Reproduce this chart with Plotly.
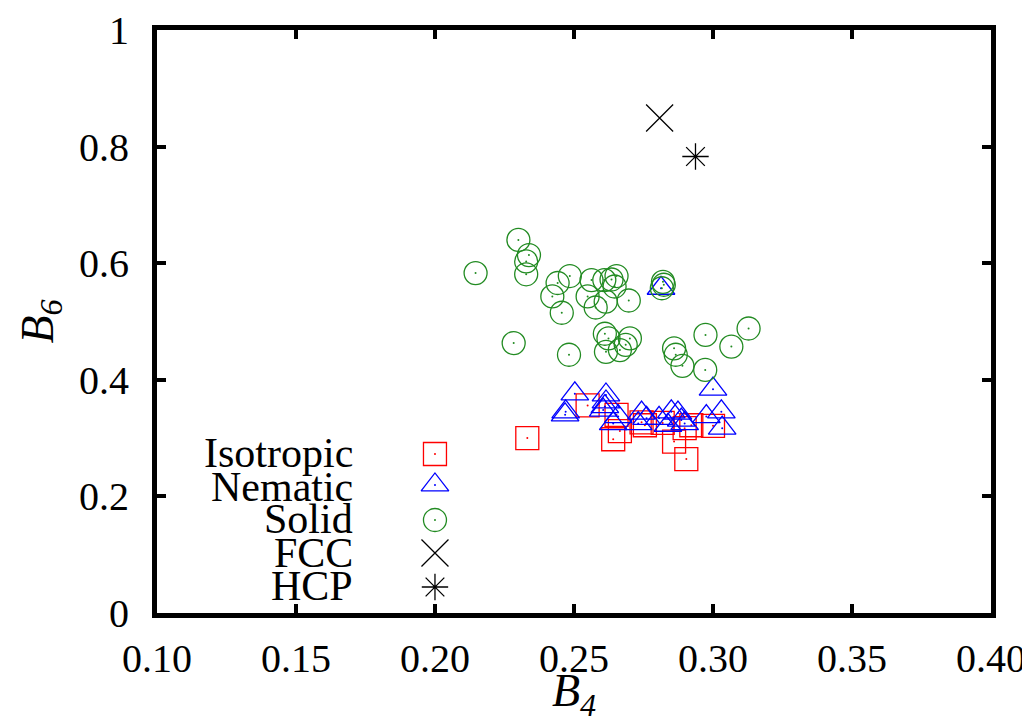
import plotly.graph_objects as go

# ---------------- data ----------------
iso_b4 = [0.2332, 0.2549, 0.2641, 0.2665, 0.2653, 0.2743, 0.2755, 0.2860, 0.2904, 0.2898, 0.2922, 0.3000, 0.2819]
iso_b6 = [0.300, 0.356, 0.298, 0.312, 0.340, 0.327, 0.322, 0.294, 0.264, 0.317, 0.322, 0.321, 0.326]

nem_b4 = [0.2503, 0.2470, 0.2468, 0.2615, 0.2615, 0.2611, 0.2605, 0.2641, 0.2659, 0.2743, 0.2761, 0.2731,
          0.2806, 0.2850, 0.2874, 0.2886, 0.2838, 0.2898, 0.3000, 0.2976, 0.3030, 0.3033, 0.2813]
nem_b6 = [0.376, 0.345, 0.340, 0.374, 0.362, 0.354, 0.348, 0.325, 0.337, 0.343, 0.334, 0.325,
          0.334, 0.345, 0.343, 0.331, 0.322, 0.325, 0.384, 0.337, 0.345, 0.317, 0.557]

sol_b4 = [0.2300, 0.2338, 0.2328, 0.2328, 0.2146, 0.2441, 0.2485, 0.2422, 0.2456, 0.2563, 0.2549, 0.2578,
          0.2609, 0.2635, 0.2653, 0.2646, 0.2614, 0.2697, 0.2820, 0.2816, 0.2823, 0.2611, 0.2624, 0.2615,
          0.2686, 0.2701, 0.2665, 0.2283, 0.2482, 0.2860, 0.2866, 0.2890, 0.2973, 0.2972, 0.3066, 0.3128]
sol_b6 = [0.640, 0.614, 0.603, 0.581, 0.583, 0.566, 0.578, 0.543, 0.515, 0.571, 0.543, 0.524,
          0.571, 0.572, 0.578, 0.560, 0.534, 0.536, 0.568, 0.557, 0.563, 0.479, 0.471, 0.448,
          0.460, 0.471, 0.451, 0.463, 0.443, 0.454, 0.443, 0.424, 0.477, 0.417, 0.457, 0.488]

fcc_b4 = [0.2808]
fcc_b6 = [0.849]
hcp_b4 = [0.2937]
hcp_b6 = [0.783]

x_ticks = [0.10, 0.15, 0.20, 0.25, 0.30, 0.35, 0.40]
y_ticks = [0, 0.2, 0.4, 0.6, 0.8, 1]

legend_labels = ["Isotropic", "Nematic", "Solid", "FCC", "HCP"]

# ---------------- styles ----------------
RED = "#ff0000"
BLUE = "#0000ff"
GREEN = "#228b22"
BLACK = "#000000"
FONT = "Liberation Serif"

series = [
    (iso_b4, iso_b6, "square-open", RED, 23, True),
    (nem_b4, nem_b6, "triangle-up-open", BLUE, 24, True),
    (sol_b4, sol_b6, "circle-open", GREEN, 23, True),
    (fcc_b4, fcc_b6, "x-thin-open", BLACK, 27, False),
    (hcp_b4, hcp_b6, "asterisk-open", BLACK, 22, False),
]

fig = go.Figure()
for xs, ys, sym, col, size, dot in series:
    fig.add_trace(go.Scatter(x=xs, y=ys, mode="markers", showlegend=False,
                             marker=dict(symbol=sym, size=size, color=col,
                                         line=dict(color=col, width=1.3))))
    if dot:
        fig.add_trace(go.Scatter(x=xs, y=ys, mode="markers", showlegend=False,
                                 marker=dict(symbol="circle", size=2, color=col)))

# custom gnuplot-style key (label, then sample symbol), on an overlay axis
key_x = 0.3333
key_rows = [0.2727, 0.2196, 0.1595, 0.1029, 0.0446]
label_rows = [0.2736, 0.2161, 0.1612, 0.1029, 0.0463]
label_x = 0.2375
for (xs, ys, sym, col, size, dot), lab, ky, ly in zip(series, legend_labels, key_rows, label_rows):
    fig.add_trace(go.Scatter(x=[key_x], y=[ky], xaxis="x2", yaxis="y2", mode="markers",
                             showlegend=False,
                             marker=dict(symbol=sym, size=size, color=col,
                                         line=dict(color=col, width=1.3))))
    if dot:
        fig.add_trace(go.Scatter(x=[key_x], y=[ky], xaxis="x2", yaxis="y2", mode="markers",
                                 showlegend=False,
                                 marker=dict(symbol="circle", size=2, color=col)))
    fig.add_annotation(x=label_x, y=ly, xref="paper", yref="paper", text=lab,
                       showarrow=False, xanchor="right", yanchor="middle",
                       font=dict(family=FONT, size=42, color=BLACK))

# axis titles
fig.add_annotation(x=0.5, y=0, xref="paper", yref="paper", text="<i>B<sub>4</sub></i>",
                   showarrow=False, xanchor="center", yanchor="top", yshift=-50,
                   font=dict(family=FONT, size=46, color=BLACK))
fig.add_annotation(x=0, y=0.5, xref="paper", yref="paper", text="<i>B<sub>6</sub></i>",
                   showarrow=False, xanchor="center", yanchor="middle", xshift=-117,
                   textangle=-90, font=dict(family=FONT, size=46, color=BLACK))

axis_common = dict(showgrid=False, zeroline=False, showline=True, linecolor=BLACK,
                   linewidth=5, mirror="ticks", ticks="inside", ticklen=9,
                   tickwidth=4, tickcolor=BLACK, automargin=False,
                   ticklabeloverflow="allow",
                   tickfont=dict(family=FONT, size=40, color=BLACK))

# the page body adds an 8 px margin at top/left, so the figure is shifted by 8 px
fig.update_layout(
    width=1022, height=712,
    margin=dict(l=149, r=39, t=22, b=107),
    paper_bgcolor="white", plot_bgcolor="white",
    xaxis=dict(range=[0.10, 0.40], tickvals=x_ticks, ticktext=[f"{v:.2f}" for v in x_ticks],
               ticklabelstandoff=6, **axis_common),
    yaxis=dict(range=[0, 1], tickvals=y_ticks, ticktext=[f"{v:g}" for v in y_ticks],
               ticklabelstandoff=15, **axis_common),
    xaxis2=dict(range=[0, 1], overlaying="x", visible=False),
    yaxis2=dict(range=[0, 1], overlaying="y", visible=False),
)

fig.write_html("out.html")
